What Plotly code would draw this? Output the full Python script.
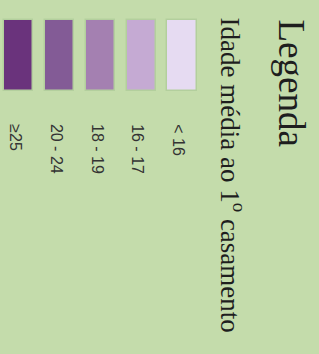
import plotly.graph_objects as go

# data
categories = ["≥25", "20 - 24", "18 - 19", "16 - 17", "< 16"]
colors = ["#6a337c", "#835b96", "#a480b1", "#c5aad3", "#e6dbf2"]
values = [1, 1, 1, 1, 1]
title_text = "Legenda"
subtitle_text = "Idade média ao 1<sup>o</sup> casamento"

BG = "#c4dcab"

fig = go.Figure()
fig.add_trace(go.Bar(
    x=categories, y=values, base=0,
    marker=dict(color=colors, line=dict(color="#b3cf9d", width=1.5)),
    width=0.71, hoverinfo="skip", showlegend=False,
))

for c in categories:
    fig.add_annotation(
        x=c, y=-0.44, xref="x", yref="y", text=c, showarrow=False,
        textangle=90, xanchor="center", yanchor="top", xshift=-3,
        font=dict(family="Liberation Sans, Arial, sans-serif", size=16, color="#333333"),
    )

fig.add_annotation(
    x=291/319, y=1 - 17/354, xref="paper", yref="paper", text=title_text,
    showarrow=False, textangle=90, xanchor="center", yanchor="top",
    font=dict(family="Liberation Serif, Times New Roman, serif", size=37, color="#1e1e1e"),
)
fig.add_annotation(
    x=233/319, y=1 - 15/354, xref="paper", yref="paper", text=subtitle_text,
    showarrow=False, textangle=90, xanchor="center", yanchor="top",
    font=dict(family="Liberation Serif, Times New Roman, serif", size=27, color="#1e1e1e"),
)

fig.update_layout(
    width=319, height=354, margin=dict(l=0, r=0, t=0, b=0),
    paper_bgcolor=BG, plot_bgcolor=BG,
    xaxis=dict(visible=False, range=[-0.4526, 7.352], type="category",
               categoryorder="array", categoryarray=categories, fixedrange=True),
    yaxis=dict(visible=False, range=[-3.704, 1.2817], fixedrange=True),
    bargap=0,
)
fig.write_html(
    "out.html",
    config={"displayModeBar": False},
    post_script="document.body.style.margin='0';document.body.style.background='" + BG + "';document.body.style.overflow='hidden';",
)
